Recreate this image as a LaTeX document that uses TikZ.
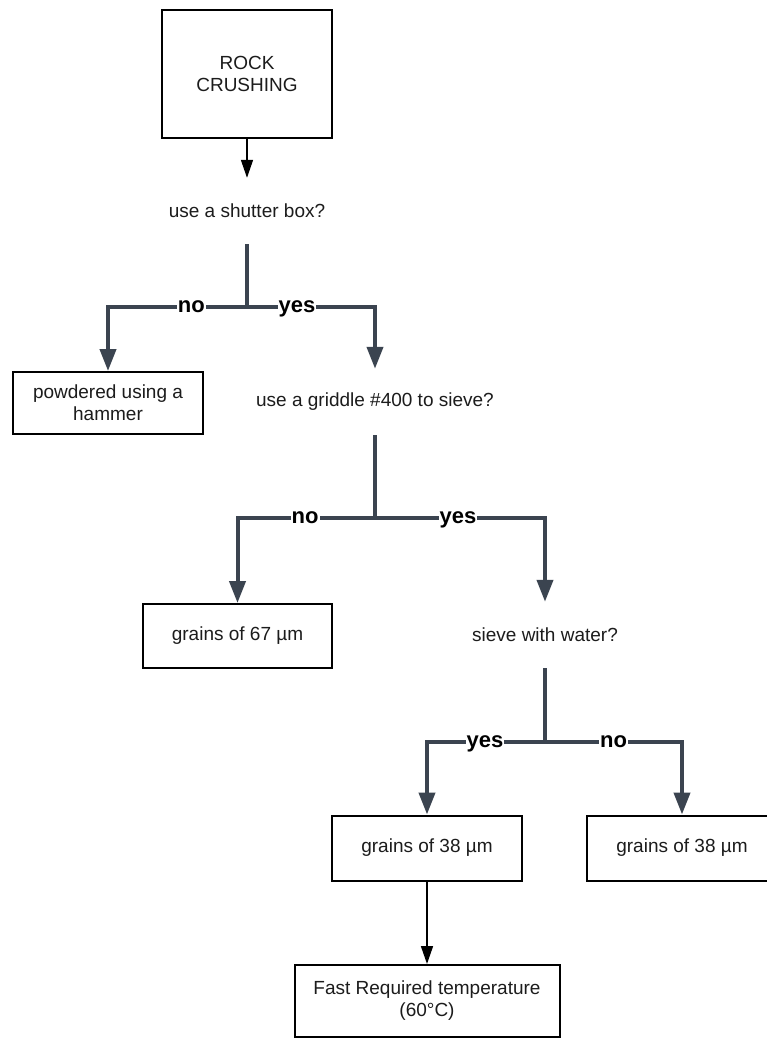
\documentclass[tikz,border=0pt]{standalone}
\usepackage{fontspec}
\setmainfont{Liberation Sans}
\usetikzlibrary{arrows.meta}
\definecolor{txt}{RGB}{28,28,28}
\definecolor{slate}{RGB}{59,68,80}
\tikzset{
  box/.style={draw=black, line width=2pt, text=txt, align=center, inner sep=2pt,
    font=\fontsize{19}{22}\selectfont},
  question/.style={text=txt, align=center, minimum height=66pt, inner sep=0pt,
    font=\fontsize{19}{22}\selectfont},
  gline/.style={draw=slate, line width=4pt, -{Triangle[length=22pt,width=16pt]}},
  gplain/.style={draw=slate, line width=4pt},
  bline/.style={draw=black, line width=1.6pt, -{Triangle[length=18pt,width=12pt]}},
  lbl/.style={fill=white, text=black, inner sep=1pt, anchor=base, yshift=-5pt,
    font=\fontsize{22}{24}\bfseries\selectfont}
}
\begin{document}
\begin{tikzpicture}[x=1pt,y=-1pt]
\clip (0,0) rectangle (767,1039);
\fill[white] (0,0) rectangle (767,1039);

\node[box, minimum width=170pt, minimum height=128pt] (rock) at (247,74) {ROCK\\CRUSHING};
\node[question] (q1) at (247,211) {use a shutter box?};
\node[box, minimum width=190pt, minimum height=62pt] (powder) at (108,403) {powdered using a\\hammer};
\node[question] (q2) at (375,402) {use a griddle \#400 to sieve?};
\node[box, minimum width=189pt, minimum height=64pt] (g67) at (237.5,636) {grains of 67 µm};
\node[question] (q3) at (545,635) {sieve with water?};
\node[box, minimum width=190pt, minimum height=65pt] (g38a) at (427,848) {grains of 38 µm};
\node[box, minimum width=265pt, minimum height=72pt] (fast) at (427,1001) {Fast Required temperature\\(60°C)};
\node[box, minimum width=190pt, minimum height=65pt] (g38b) at (682,848) {grains of 38 µm};

\coordinate (j1) at (247,307);
\coordinate (j2) at (375,518);
\coordinate (j3) at (545,742);

\draw[bline] (rock.south) -- (q1.north);

\draw[gplain] (q1.south) -- (j1);
\draw[gline] (j1) -| node[lbl, pos=0.2] {no} (powder.north);
\draw[gline] (j1) -| node[lbl, pos=0.195] {yes} (q2.north);

\draw[gplain] (q2.south) -- (j2);
\draw[gline] (j2) -| node[lbl, pos=0.254] {no} (g67.north);
\draw[gline] (j2) -| node[lbl, pos=0.244] {yes} (q3.north);

\draw[gplain] (q3.south) -- (j3);
\draw[gline] (j3) -| node[lbl, pos=0.254] {yes} (g38a.north);
\draw[gline] (j3) -| node[lbl, pos=0.25] {no} (g38b.north);

\draw[bline] (g38a.south) -- (fast.north);
\end{tikzpicture}
\end{document}
